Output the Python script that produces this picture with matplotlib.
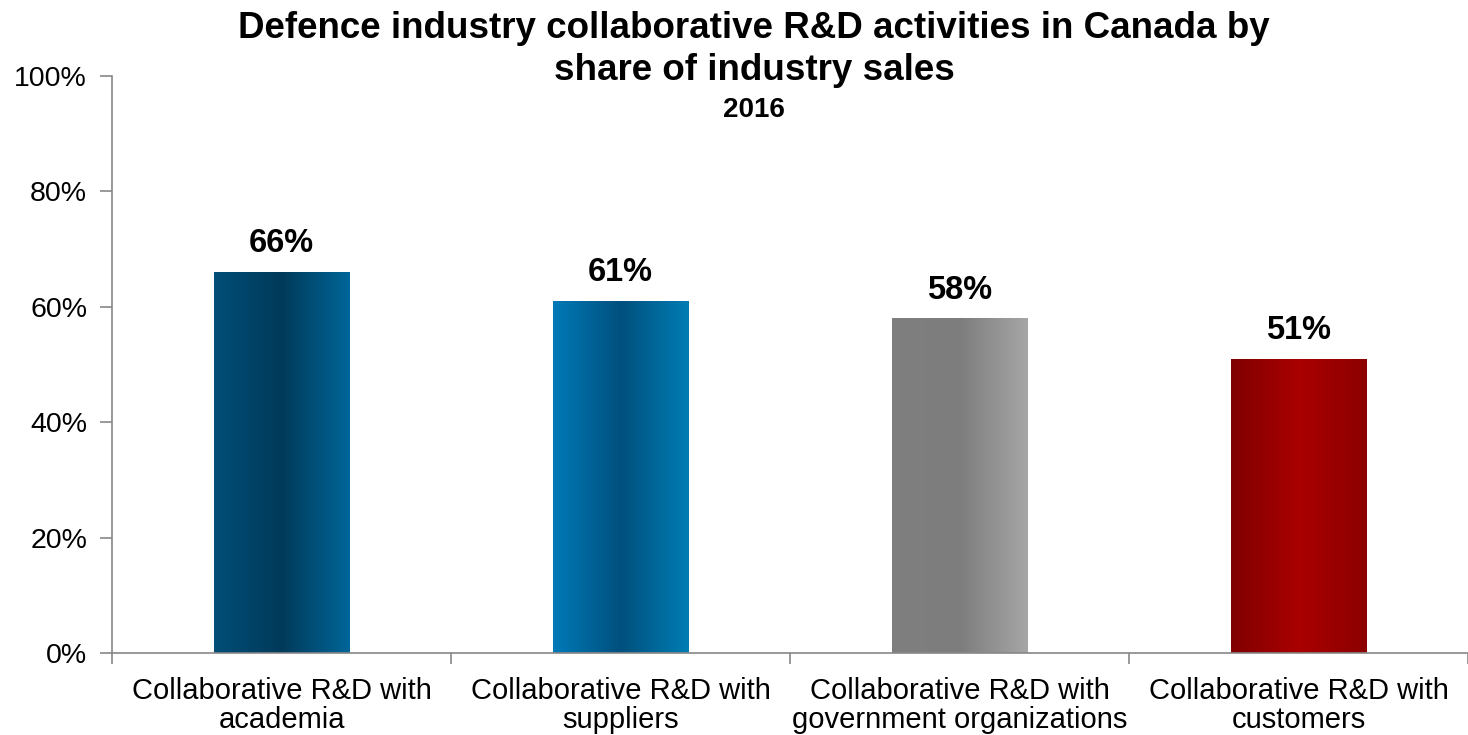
import matplotlib.pyplot as plt
import numpy as np
from matplotlib.colors import LinearSegmentedColormap

plt.rcParams['font.family'] = ['Liberation Sans', 'DejaVu Sans']

categories = ["Collaborative R&D with\nacademia",
              "Collaborative R&D with\nsuppliers",
              "Collaborative R&D with\ngovernment organizations",
              "Collaborative R&D with\ncustomers"]
values = [66, 61, 58, 51]
labels = ["66%", "61%", "58%", "51%"]

# left / middle / right shades for each bar's horizontal gradient
shades = [
    ["#004E78", "#003A5A", "#006699"],
    ["#007AB8", "#00507D", "#007DB4"],
    ["#7F7F7F", "#7D7D7D", "#A6A6A6"],
    ["#800000", "#AA0000", "#8C0000"],
]

fig = plt.figure(figsize=(14.68, 7.35), dpi=100)
ax = fig.add_axes([0.0763, 0.1116, 0.9237, 0.785])

x = np.arange(len(values))
bars = ax.bar(x, values, width=0.4, color="none", edgecolor="none")
ax.set_xlim(-0.5, len(values) - 0.5)
ax.set_ylim(0, 100)

grad = np.linspace(0, 1, 256).reshape(1, -1)
for b, sh in zip(bars, shades):
    cmap = LinearSegmentedColormap.from_list("g", sh)
    x0, y0 = b.get_x(), b.get_y()
    im = ax.imshow(grad, cmap=cmap, aspect="auto", interpolation="bicubic",
                   extent=[x0, x0 + b.get_width(), y0, y0 + b.get_height()], zorder=2)
    im.set_clip_path(b)

for xi, v, lab in zip(x, values, labels):
    ax.text(xi, v + 2.2, lab, ha="center", va="bottom", fontsize=23.5, fontweight="bold")

ax.set_xticks(x)
ax.set_xticklabels(categories, fontsize=21, linespacing=1.05)
ax.set_xticks(np.arange(-0.5, len(values)), minor=True)
ax.tick_params(axis="x", which="major", length=0, pad=17)
ax.tick_params(axis="x", which="minor", length=8, color="#888888", width=1.2)

ax.set_yticks(np.arange(0, 101, 20))
ax.set_yticklabels([f"{t}%" for t in range(0, 101, 20)], fontsize=20.5)
ax.tick_params(axis="y", length=9, color="#888888", width=1.2, pad=9)

for s in ["top", "right"]:
    ax.spines[s].set_visible(False)
for s in ["left", "bottom"]:
    ax.spines[s].set_color("#888888")
    ax.spines[s].set_linewidth(1.2)

fig.text(754 / 1468, 1 - 28 / 735, "Defence industry collaborative R&D activities in Canada by",
         ha="center", va="center", fontsize=26.5, fontweight="bold")
fig.text(754 / 1468, 1 - 70 / 735, "share of industry sales",
         ha="center", va="center", fontsize=26.5, fontweight="bold")
fig.text(754 / 1468, 1 - 110 / 735, "2016",
         ha="center", va="center", fontsize=20, fontweight="bold")

fig.savefig("out.png", dpi=100)
